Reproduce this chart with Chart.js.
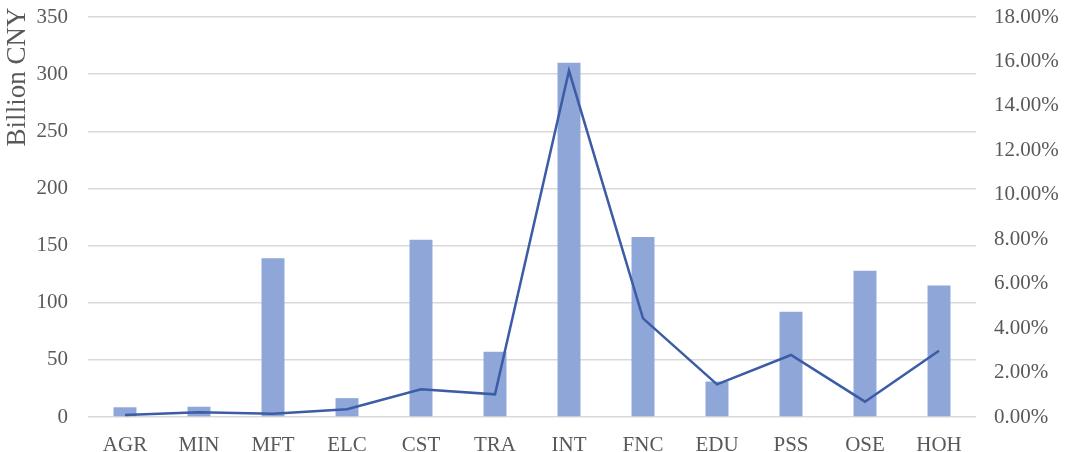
<!DOCTYPE html>
<html>
<head>
<meta charset="utf-8">
<script src="https://cdn.jsdelivr.net/npm/chart.js@4/dist/chart.umd.min.js"></script>
<style>
  html, body { margin: 0; padding: 0; background: #fff; }
  #wrap { width: 1074px; height: 452px; }
</style>
</head>
<body>
<div id="wrap"><canvas id="myChart"></canvas></div>
<script>
const sectors = ['AGR', 'MIN', 'MFT', 'ELC', 'CST', 'TRA', 'INT', 'FNC', 'EDU', 'PSS', 'OSE', 'HOH'];
// output in billion CNY (bars, left axis)
const outputValues = [8.5, 9, 139, 16.5, 155, 57, 310, 157.5, 31, 92, 128, 115];
// share in percent (line, right axis)
const shareValues = [0.09, 0.21, 0.15, 0.35, 1.25, 1.02, 15.58, 4.44, 1.47, 2.79, 0.69, 2.98];

const tickFont = { family: '"Liberation Serif", "Times New Roman", serif', size: 21 };
const textGray = '#595959';

// rotated axis title sitting near the top of the left axis
const leftTitle = {
  id: 'leftTitle',
  afterDraw(chart) {
    const ctx = chart.ctx;
    ctx.save();
    ctx.translate(18, 77);
    ctx.rotate(-Math.PI / 2);
    ctx.font = '27px "Liberation Serif", serif';
    ctx.fillStyle = textGray;
    ctx.textAlign = 'center';
    ctx.textBaseline = 'middle';
    ctx.fillText('Billion CNY', 0, 0);
    ctx.restore();
  }
};

// fixed axis widths, and no extra room for the half-height of the end labels
const fitY = (w) => (scale) => {
  scale.width = w;
  scale.paddingTop = 0;
  scale.paddingBottom = 0;
};

const ctx = document.getElementById('myChart').getContext('2d');
const chart = new Chart(ctx, {
  data: {
    labels: sectors,
    datasets: [
      {
        type: 'line',
        label: 'Share',
        data: shareValues,
        yAxisID: 'yRight',
        borderColor: '#3C5CA6',
        borderWidth: 2.5,
        pointRadius: 0,
        tension: 0,
        order: 0
      },
      {
        type: 'bar',
        label: 'Output',
        data: outputValues,
        yAxisID: 'y',
        backgroundColor: '#8EA6D8',
        barPercentage: 0.31,
        categoryPercentage: 1,
        order: 1
      }
    ]
  },
  options: {
    responsive: true,
    maintainAspectRatio: false,
    animation: false,
    layout: { padding: { top: 17, left: 0, right: 0, bottom: 0 } },
    plugins: {
      legend: { display: false },
      tooltip: { enabled: false }
    },
    scales: {
      x: {
        grid: { display: false },
        border: { display: false },
        ticks: { font: tickFont, color: textGray, padding: 8 },
        afterFit(scale) { scale.height = 35; }
      },
      y: {
        position: 'left',
        min: 0,
        max: 350,
        grid: { color: '#d9d9d9', lineWidth: 1.5, drawTicks: false },
        border: { display: false },
        ticks: { stepSize: 50, font: tickFont, color: textGray, padding: 20 },
        afterFit: fitY(88)
      },
      yRight: {
        position: 'right',
        min: 0,
        max: 18,
        grid: { display: false, drawTicks: false },
        border: { display: false },
        ticks: {
          stepSize: 2,
          font: tickFont,
          color: textGray,
          padding: 18,
          callback: (v) => v.toFixed(2) + '%'
        },
        afterFit: fitY(98)
      }
    }
  },
  plugins: [leftTitle]
});
</script>
</body>
</html>
